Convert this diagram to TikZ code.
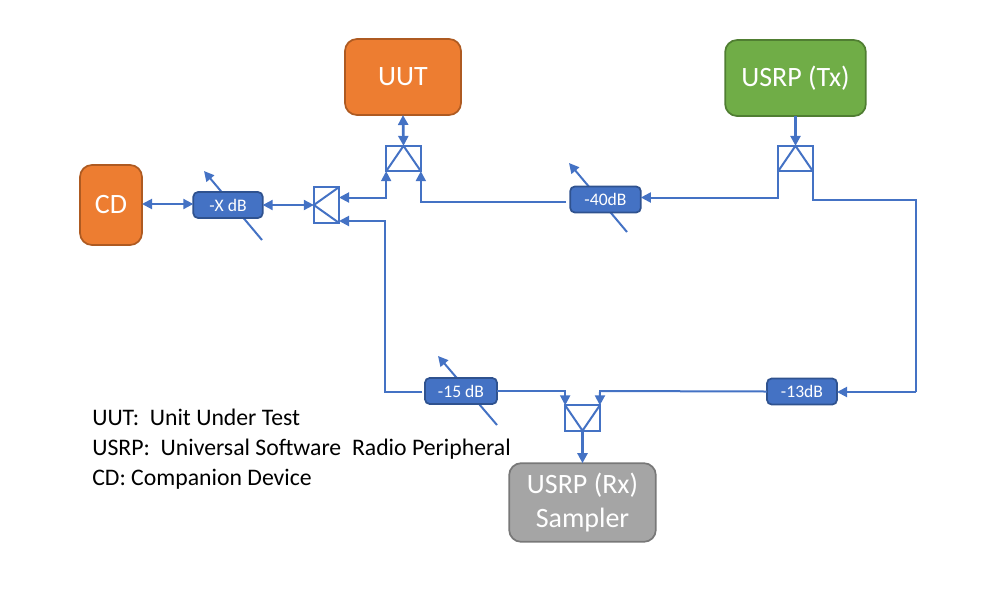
\documentclass[tikz,border=0pt]{standalone}
\usepackage{fontspec}
\setmainfont{Carlito}
\usetikzlibrary{arrows.meta,calc}
\definecolor{lnblue}{HTML}{4472C4}
\definecolor{edblue}{HTML}{2F528F}
\definecolor{orfill}{HTML}{ED7D31}
\definecolor{ordraw}{HTML}{AE5A21}
\definecolor{grfill}{HTML}{70AD47}
\definecolor{grdraw}{HTML}{507E32}
\definecolor{gyfill}{HTML}{A5A5A5}
\definecolor{gydraw}{HTML}{787878}
\tikzset{
  px/.style={x=0.75pt,y=-0.75pt},
  devbox/.style={draw=#1,line width=1.3pt,rounded corners=9pt,inner sep=0pt,outer sep=0pt,text=white,align=center,font=\fontsize{21}{25}\selectfont},
  attbox/.style={draw=edblue,fill=lnblue,line width=1.3pt,rounded corners=3.5pt,inner sep=0pt,outer sep=0pt,minimum height=19.5pt,text=white,font=\fontsize{13.2}{15}\selectfont},
  splitbox/.style={draw=lnblue,line width=1.5pt,inner sep=0pt,outer sep=0pt,minimum width=26pt,minimum height=19pt},
  wire/.style={draw=lnblue,line width=1.5pt},
  heavy/.style={line width=2pt},
  arr/.style={wire,arrows={-Triangle[length=7.5pt,width=7.5pt]}},
  biarr/.style={wire,arrows={Triangle[length=7.5pt,width=7.5pt]-Triangle[length=7.5pt,width=7.5pt]}},
  legend/.style={anchor=base west,inner sep=0pt,font=\fontsize{17.8}{21}\selectfont,text=black},
}
\begin{document}
\begin{tikzpicture}[px]
\useasboundingbox (0,0) rectangle (995,590);
% variable-attenuator pointers (behind the attenuator boxes)
\coordinate (xtail) at (262,240); \coordinate (xtip) at (204,171);
\coordinate (ftail) at (627,232); \coordinate (ftip) at (569,163);
\coordinate (ttail) at (497,425); \coordinate (ttip) at (438,356);
\draw[arr] (xtail) -- (xtip);
\draw[arr] (ftail) -- (ftip);
\draw[arr] (ttail) -- (ttip);
% devices
\node[devbox=ordraw,fill=orfill,minimum width=87pt,minimum height=57pt] (uut) at (403,77) {\vphantom{(}UUT};
\node[devbox=grdraw,fill=grfill,minimum width=105.5pt,minimum height=57pt] (tx) at (795.5,78) {USRP (Tx)};
\node[devbox=ordraw,fill=orfill,minimum width=46.5pt,minimum height=60pt] (cd) at (111,205) {\vphantom{(}CD};
\node[devbox=gydraw,fill=gyfill,minimum width=110pt,minimum height=59pt] (rx) at (582.5,502.5) {USRP (Rx)\\Sampler};
% attenuators
\node[attbox,minimum width=52pt] (attx) at (228,205) {-X dB};
\node[attbox,minimum width=53pt] (attf) at (605.5,199.5) {-40dB};
\node[attbox,minimum width=54pt] (attt) at (461,391) {-15 dB};
\node[attbox,minimum width=52.5pt] (atth) at (802,391.5) {-13dB};
% splitters
\node[splitbox] (stop) at (403.5,158.5) {};
\node[splitbox] (stx) at (795.5,158.5) {};
\node[splitbox] (srx) at (582.5,418) {};
\node[splitbox,minimum width=19pt,minimum height=27pt] (sl) at (326.5,205) {};
\draw[wire,line join=miter] (stop.south west) -- (stop.north) -- (stop.south east);
\draw[wire,line join=miter] (stx.south west) -- (stx.north) -- (stx.south east);
\draw[wire,line join=miter] (srx.north west) -- (srx.south) -- (srx.north east);
\draw[wire,line join=miter] (sl.north east) -- (sl.west) -- (sl.south east);
% free corners
\coordinate (rt) at (916,200);
\coordinate (rb) at (916,392);
\coordinate (lc) at (385,392);
\coordinate (slu) at (339,197.5);
\coordinate (sld) at (339,221);
\coordinate (rxr) at (600,391);
% connectors
\draw[biarr,heavy] (uut.south) -- (stop.north);
\draw[arr,heavy] (tx.south) -- (stx.north);
\draw[arr,heavy] (srx.south) -- (rx.north);
\draw[biarr] ([yshift=0.75pt]cd.east) -- ([yshift=0.75pt]attx.west);
\draw[biarr] (attx.east) -- (sl.west);
\draw[biarr] (stop.south west) |- (slu);
\draw[arr] ([xshift=-3pt,yshift=-1.5pt]attf.west) -| (stop.south east);
\draw[arr] (stx.south west) |- ([yshift=1.5pt]attf.east);
\draw[wire] (stx.south east) |- (rt) -- (rb);
\draw[arr] (rb) -- (atth.east |- rb);
\draw[arr] (atth.west) -- (rxr) -- (srx.north east);
\draw[arr] (attt.east) -- (srx.north west |- attt.east) -- (srx.north west);
\draw[arr] ([xshift=-2pt]attt.west |- lc) -- (lc) |- (sld);
% legend
\node[legend] (l1) at (92,425) {UUT:\ \ Unit Under Test};
\node[legend] (l2) at (92,455) {USRP:\ \ Universal Software\ \ Radio Peripheral};
\node[legend] (l3) at (92,485) {CD: Companion Device};
\end{tikzpicture}
\end{document}
